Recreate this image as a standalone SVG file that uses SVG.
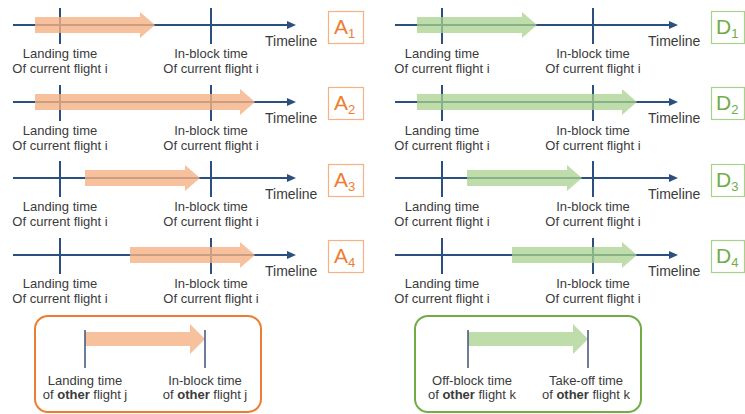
<svg xmlns="http://www.w3.org/2000/svg" width="745" height="414" viewBox="0 0 745 414">
<defs>
<style>
.axis{stroke:#2b4f7e;stroke-width:2;fill:none}
.tick{stroke:#2b4f7e;stroke-width:2}
.ltick{stroke:#4a5c80;stroke-width:1.6}
.ah{fill:#2b4f7e}
.oa{fill:#f4b183;opacity:0.8}
.ga{fill:#a9d18e;opacity:0.75}
.lbl{font-family:"Liberation Sans",Arial,sans-serif;font-size:13px;fill:#3b3b3b;text-anchor:middle}
.tl{font-family:"Liberation Sans",Arial,sans-serif;font-size:14px;fill:#3b3b3b}
.obox{fill:#fff;stroke:#f4b183;stroke-width:1.2}
.gbox{fill:#fff;stroke:#a9d18e;stroke-width:1.2}
.ot{font-family:"Liberation Sans",Arial,sans-serif;font-size:21px;fill:#ed7d31}
.gt{font-family:"Liberation Sans",Arial,sans-serif;font-size:21px;fill:#70ad47}
.sub{font-size:13px}
.b{font-weight:bold}
</style>
</defs>
<g id="connectors">
<line class="axis" x1="13" y1="25" x2="290" y2="25"/><polygon class="ah" points="296,25 287,21 287,29"/>
<line class="axis" x1="13" y1="102" x2="290" y2="102"/><polygon class="ah" points="296,102 287,98 287,106"/>
<line class="axis" x1="13" y1="178" x2="290" y2="178"/><polygon class="ah" points="296,178 287,174 287,182"/>
<line class="axis" x1="13" y1="255" x2="290" y2="255"/><polygon class="ah" points="296,255 287,251 287,259"/>
<line class="axis" x1="395" y1="25" x2="672" y2="25"/><polygon class="ah" points="678,25 669,21 669,29"/>
<line class="axis" x1="395" y1="102" x2="672" y2="102"/><polygon class="ah" points="678,102 669,98 669,106"/>
<line class="axis" x1="395" y1="178" x2="672" y2="178"/><polygon class="ah" points="678,178 669,174 669,182"/>
<line class="axis" x1="395" y1="255" x2="672" y2="255"/><polygon class="ah" points="678,255 669,251 669,259"/>
<line class="tick" x1="60" y1="8" x2="60" y2="44"/><line class="tick" x1="211" y1="8" x2="211" y2="44"/>
<line class="tick" x1="60" y1="85" x2="60" y2="121"/><line class="tick" x1="211" y1="85" x2="211" y2="121"/>
<line class="tick" x1="60" y1="161" x2="60" y2="197"/><line class="tick" x1="211" y1="161" x2="211" y2="197"/>
<line class="tick" x1="60" y1="238" x2="60" y2="274"/><line class="tick" x1="211" y1="238" x2="211" y2="274"/>
<line class="tick" x1="442" y1="8" x2="442" y2="44"/><line class="tick" x1="593" y1="8" x2="593" y2="44"/>
<line class="tick" x1="442" y1="85" x2="442" y2="121"/><line class="tick" x1="593" y1="85" x2="593" y2="121"/>
<line class="tick" x1="442" y1="161" x2="442" y2="197"/><line class="tick" x1="593" y1="161" x2="593" y2="197"/>
<line class="tick" x1="442" y1="238" x2="442" y2="274"/><line class="tick" x1="593" y1="238" x2="593" y2="274"/>
<polygon class="oa" points="35,17 140,17 140,12 155,25 140,38 140,33 35,33"/>
<polygon class="oa" points="35,94 240,94 240,89 255,102 240,115 240,110 35,110"/>
<polygon class="oa" points="85,170 185,170 185,165 200,178 185,191 185,186 85,186"/>
<polygon class="oa" points="130,247 240,247 240,242 255,255 240,268 240,263 130,263"/>
<polygon class="ga" points="417,17 522,17 522,12 537,25 522,38 522,33 417,33"/>
<polygon class="ga" points="417,94 622,94 622,89 637,102 622,115 622,110 417,110"/>
<polygon class="ga" points="467,170 567,170 567,165 582,178 567,191 567,186 467,186"/>
<polygon class="ga" points="512,247 622,247 622,242 637,255 622,268 622,263 512,263"/>
</g>
<g id="A1">
<text class="tl" x="265" y="46">Timeline</text>
<text class="lbl" x="60" y="58">Landing time</text><text class="lbl" x="60" y="73">Of current flight i</text>
<text class="lbl" x="211" y="58">In-block time</text><text class="lbl" x="211" y="73">Of current flight i</text>
<rect class="obox" x="328.5" y="11.5" width="35" height="32"/>
<text class="ot" x="334" y="34">A<tspan class="sub" dy="4">1</tspan></text>
</g>
<g id="A2">
<text class="tl" x="265" y="123">Timeline</text>
<text class="lbl" x="60" y="135">Landing time</text><text class="lbl" x="60" y="150">Of current flight i</text>
<text class="lbl" x="211" y="135">In-block time</text><text class="lbl" x="211" y="150">Of current flight i</text>
<rect class="obox" x="328.5" y="87.5" width="35" height="32"/>
<text class="ot" x="334" y="110">A<tspan class="sub" dy="4">2</tspan></text>
</g>
<g id="A3">
<text class="tl" x="265" y="199">Timeline</text>
<text class="lbl" x="60" y="211">Landing time</text><text class="lbl" x="60" y="226">Of current flight i</text>
<text class="lbl" x="211" y="211">In-block time</text><text class="lbl" x="211" y="226">Of current flight i</text>
<rect class="obox" x="328.5" y="164.5" width="35" height="32"/>
<text class="ot" x="334" y="187">A<tspan class="sub" dy="4">3</tspan></text>
</g>
<g id="A4">
<text class="tl" x="265" y="276">Timeline</text>
<text class="lbl" x="60" y="288">Landing time</text><text class="lbl" x="60" y="303">Of current flight i</text>
<text class="lbl" x="211" y="288">In-block time</text><text class="lbl" x="211" y="303">Of current flight i</text>
<rect class="obox" x="328.5" y="240.5" width="35" height="32"/>
<text class="ot" x="334" y="263">A<tspan class="sub" dy="4">4</tspan></text>
</g>
<g id="D1">
<text class="tl" x="648" y="46">Timeline</text>
<text class="lbl" x="442" y="58">Landing time</text><text class="lbl" x="442" y="73">Of current flight i</text>
<text class="lbl" x="593" y="58">In-block time</text><text class="lbl" x="593" y="73">Of current flight i</text>
<rect class="gbox" x="711.5" y="11.5" width="33" height="32"/>
<text class="gt" x="716" y="34">D<tspan class="sub" dy="4">1</tspan></text>
</g>
<g id="D2">
<text class="tl" x="648" y="123">Timeline</text>
<text class="lbl" x="442" y="135">Landing time</text><text class="lbl" x="442" y="150">Of current flight i</text>
<text class="lbl" x="593" y="135">In-block time</text><text class="lbl" x="593" y="150">Of current flight i</text>
<rect class="gbox" x="711.5" y="87.5" width="33" height="32"/>
<text class="gt" x="716" y="110">D<tspan class="sub" dy="4">2</tspan></text>
</g>
<g id="D3">
<text class="tl" x="648" y="199">Timeline</text>
<text class="lbl" x="442" y="211">Landing time</text><text class="lbl" x="442" y="226">Of current flight i</text>
<text class="lbl" x="593" y="211">In-block time</text><text class="lbl" x="593" y="226">Of current flight i</text>
<rect class="gbox" x="711.5" y="164.5" width="33" height="32"/>
<text class="gt" x="716" y="187">D<tspan class="sub" dy="4">3</tspan></text>
</g>
<g id="D4">
<text class="tl" x="648" y="276">Timeline</text>
<text class="lbl" x="442" y="288">Landing time</text><text class="lbl" x="442" y="303">Of current flight i</text>
<text class="lbl" x="593" y="288">In-block time</text><text class="lbl" x="593" y="303">Of current flight i</text>
<rect class="gbox" x="711.5" y="240.5" width="33" height="32"/>
<text class="gt" x="716" y="263">D<tspan class="sub" dy="4">4</tspan></text>
</g>
<g id="legend-arrival">
<rect x="35" y="316" width="226" height="96" rx="13" fill="none" stroke="#ed7d31" stroke-width="2"/>
<polygon points="85,332 190,332 190,324 205,339 190,354 190,346 85,346" fill="#f4b183" opacity="0.8"/>
<line class="ltick" x1="85" y1="330" x2="85" y2="368"/>
<line class="ltick" x1="205" y1="330" x2="205" y2="368"/>
<text class="lbl" x="85" y="385">Landing time</text>
<text class="lbl" x="85" y="399">of <tspan class="b">other</tspan> flight j</text>
<text class="lbl" x="205" y="385">In-block time</text>
<text class="lbl" x="205" y="399">of <tspan class="b">other</tspan> flight j</text>
</g>
<g id="legend-departure">
<rect x="415" y="316" width="226" height="96" rx="13" fill="none" stroke="#70ad47" stroke-width="2"/>
<polygon points="468,332 573,332 573,324 588,339 573,354 573,346 468,346" fill="#a9d18e" opacity="0.75"/>
<line class="ltick" x1="468" y1="330" x2="468" y2="368"/>
<line class="ltick" x1="588" y1="330" x2="588" y2="368"/>
<text class="lbl" x="472" y="385">Off-block time</text>
<text class="lbl" x="472" y="399">of <tspan class="b">other</tspan> flight k</text>
<text class="lbl" x="586" y="385">Take-off time</text>
<text class="lbl" x="586" y="399">of <tspan class="b">other</tspan> flight k</text>
</g>
</svg>
